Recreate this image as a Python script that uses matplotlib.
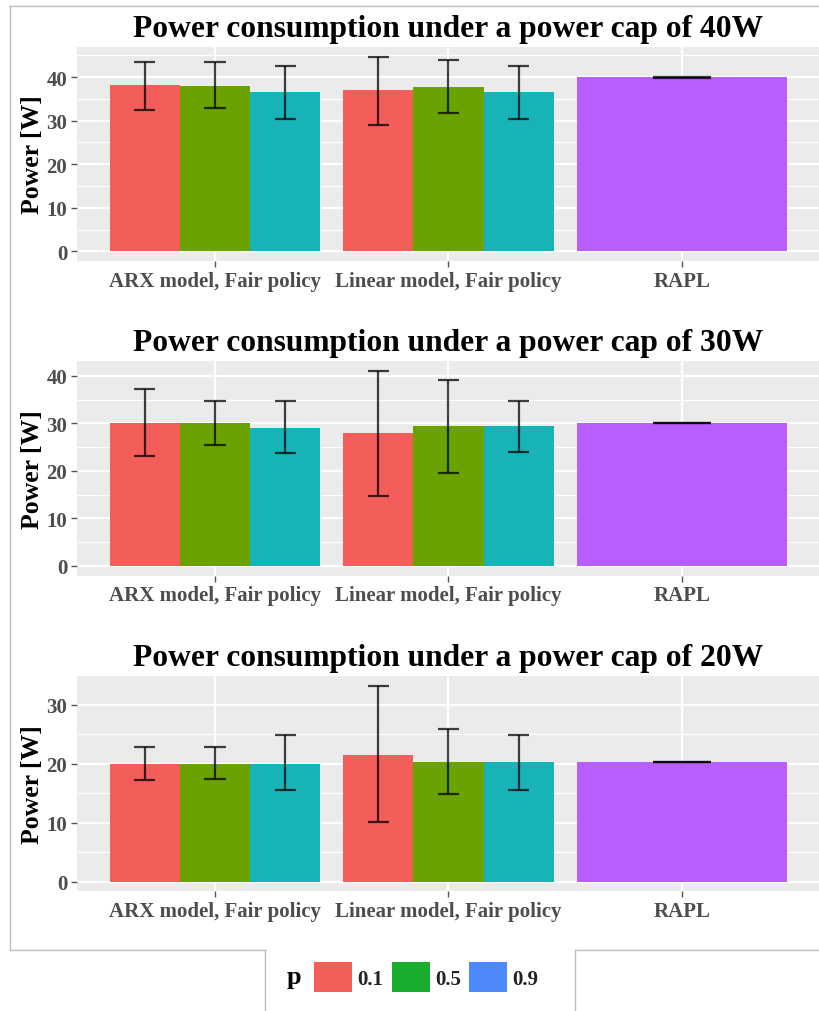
import matplotlib
matplotlib.use("Agg")
import matplotlib.pyplot as plt
from matplotlib.lines import Line2D
from matplotlib.patches import Patch
import numpy as np

plt.rcParams['font.family'] = ['Liberation Serif', 'DejaVu Serif']
plt.rcParams['font.weight'] = 'bold'

categories = ["ARX model, Fair policy", "Linear model, Fair policy", "RAPL"]
p_levels = ["0.1", "0.5", "0.9"]
caps_w = [40, 30, 20]

# per panel: ARX (per p), Linear (per p), RAPL
arx_mean = {40: [38.1, 38.0, 36.6], 30: [30.05, 30.0, 29.1], 20: [20.0, 20.0, 20.0]}
arx_lo   = {40: [32.4, 33.0, 30.5], 30: [23.1, 25.4, 23.7], 20: [17.3, 17.4, 15.5]}
arx_hi   = {40: [43.6, 43.4, 42.5], 30: [37.3, 34.8, 34.8], 20: [22.8, 22.8, 24.85]}
lin_mean = {40: [37.1, 37.7, 36.6], 30: [28.0, 29.4, 29.4], 20: [21.4, 20.3, 20.3]}
lin_lo   = {40: [29.0, 31.7, 30.5], 30: [14.8, 19.5, 24.0], 20: [10.05, 14.9, 15.6]}
lin_hi   = {40: [44.7, 44.0, 42.6], 30: [41.0, 39.2, 34.8], 20: [33.15, 25.8, 24.85]}
rapl_mean = {40: 40.0, 30: 30.05, 20: 20.3}
rapl_lo   = {40: 39.9, 30: 30.0, 20: 20.25}
rapl_hi   = {40: 40.1, 30: 30.1, 20: 20.35}

bar_colors = ['#F35E5A', '#6AA300', '#17B3B7']
rapl_color = '#B85EFF'
legend_colors = ['#F35E5A', '#19AE2E', '#4E88FE']

W, H = 820, 1012
fig = plt.figure(figsize=(W / 100, H / 100), dpi=100)

# axes pixel boxes (left, top, right, bottom)
boxes = [(77, 48, 820, 262), (77, 362.3, 820, 576.7), (77, 677.3, 820, 892.3)]

TICK_GREY = '#4D4D4D'
for cap, (l, t, r, b) in zip(caps_w, boxes):
    ax = fig.add_axes([l / W, 1 - b / H, (r - l) / W, (b - t) / H])
    ax.set_facecolor('#EBEBEB')
    for s in ax.spines.values():
        s.set_visible(False)
    x = np.arange(1, 4)
    dw = 0.3
    means = [arx_mean[cap], lin_mean[cap]]
    los = [arx_lo[cap], lin_lo[cap]]
    his = [arx_hi[cap], lin_hi[cap]]
    for gi in range(2):
        for pi in range(3):
            xc = x[gi] + (pi - 1) * dw
            ax.bar(xc, means[gi][pi], width=dw, color=bar_colors[pi], zorder=3, linewidth=0)
            ax.vlines(xc, los[gi][pi], his[gi][pi], color='black', alpha=0.75, lw=1.6, zorder=4)
            ax.hlines([los[gi][pi], his[gi][pi]], xc - 0.3 * dw / 2, xc + 0.3 * dw / 2,
                      color='black', alpha=0.75, lw=1.6, zorder=4)
    ax.bar(x[2], rapl_mean[cap], width=0.9, color=rapl_color, zorder=3, linewidth=0)
    ax.vlines(x[2], rapl_lo[cap], rapl_hi[cap], color='black', alpha=0.75, lw=1.6, zorder=4)
    ax.hlines([rapl_lo[cap], rapl_hi[cap]], x[2] - 0.125, x[2] + 0.125,
              color='black', alpha=0.75, lw=1.6, zorder=4)

    allhi = max(max(arx_hi[cap]), max(lin_hi[cap]), rapl_hi[cap])
    lo0 = 0.0
    pad = 0.05 * (allhi - lo0)
    ax.set_ylim(lo0 - pad, allhi + pad)
    ax.set_xlim(0.409, 3.591)

    majors = np.arange(0, allhi + pad, 10)
    minors = np.arange(5, allhi + pad, 10)
    ax.set_yticks(majors)
    ax.set_yticks(minors, minor=True)
    ax.set_xticks(x)
    ax.set_xticklabels(categories)
    ax.set_yticklabels([f"{int(v)}" for v in majors])
    ax.grid(which='major', axis='both', color='white', lw=1.6, zorder=1)
    ax.grid(which='minor', axis='y', color='white', lw=0.8, zorder=1)
    ax.tick_params(axis='both', which='major', length=4, width=1, color='#555555',
                   labelcolor=TICK_GREY, labelsize=15, pad=3)
    ax.tick_params(axis='y', which='minor', length=0)
    for lab in ax.get_xticklabels() + ax.get_yticklabels():
        lab.set_fontweight('bold')
    ax.set_ylabel("Power [W]", fontsize=18.5, fontweight='bold', color='black', labelpad=2)
    ax.set_title(f"Power consumption under a power cap of {cap}W", fontsize=22.7,
                 fontweight='bold', color='black', pad=8)

# frame lines (screenshot borders)
def fline(x0, y0, x1, y1):
    fig.add_artist(Line2D([x0 / W, x1 / W], [1 - y0 / H, 1 - y1 / H],
                          color='#BDBDBD', lw=1.0, transform=fig.transFigure))

fline(10, 7, 820, 7)
fline(10, 7, 10, 951)
fline(10, 951, 265, 951)
fline(575, 951, 820, 951)
fline(265, 951, 265, 1012)
fline(575, 951, 575, 1012)

# legend
fig.text(287 / W, 1 - 978 / H, "p", fontsize=19, fontweight='bold', color='black',
         ha='left', va='center')
handles = [Patch(facecolor=c, edgecolor='none') for c in legend_colors]
leg = fig.legend(handles, p_levels, loc='center left', bbox_to_anchor=(314 / W, 1 - 978 / H),
                 ncol=3, frameon=False, fontsize=15, handlelength=1.83, handleheight=1.83,
                 handletextpad=0.25, columnspacing=0.4, borderpad=0, borderaxespad=0)
for txt in leg.get_texts():
    txt.set_fontweight('bold')
    txt.set_color('#222222')

fig.savefig("out.png", dpi=100)
